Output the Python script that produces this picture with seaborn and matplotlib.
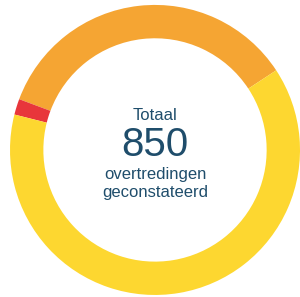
import matplotlib
matplotlib.use("Agg")
import matplotlib.pyplot as plt
import seaborn as sns

# Overtredingen per categorie
categories = ["Categorie A", "Categorie B", "Categorie C"]
counts = [298, 15, 537]
colors = ["#F5A533", "#E8363B", "#FDD730"]

total_label = "Totaal"
total_value = "850"
sub_lines = ["overtredingen", "geconstateerd"]

sns.set_theme(style="white")
plt.rcParams["font.family"] = ["Liberation Sans", "DejaVu Sans"]

fig = plt.figure(figsize=(3.0, 2.97), dpi=100)
ax = fig.add_axes([0, 0, 1, 1])

ax.pie(counts, colors=colors, startangle=33.3, counterclock=True,
       radius=1.0, wedgeprops=dict(width=0.23, linewidth=0))

text_color = "#1F4D6B"
ax.text(0, 0.24, total_label, ha="center", va="center", fontsize=12, color=text_color)
ax.text(0, 0.035, total_value, ha="center", va="center", fontsize=29, color=text_color)
ax.text(0, -0.17, sub_lines[0], ha="center", va="center", fontsize=12, color=text_color)
ax.text(0, -0.295, sub_lines[1], ha="center", va="center", fontsize=12, color=text_color)

ax.set_xlim(-1.069, 1.0)
ax.set_ylim(-1.014, 1.034)
ax.set_aspect("auto")
ax.axis("off")

fig.savefig("out.png", dpi=100)
